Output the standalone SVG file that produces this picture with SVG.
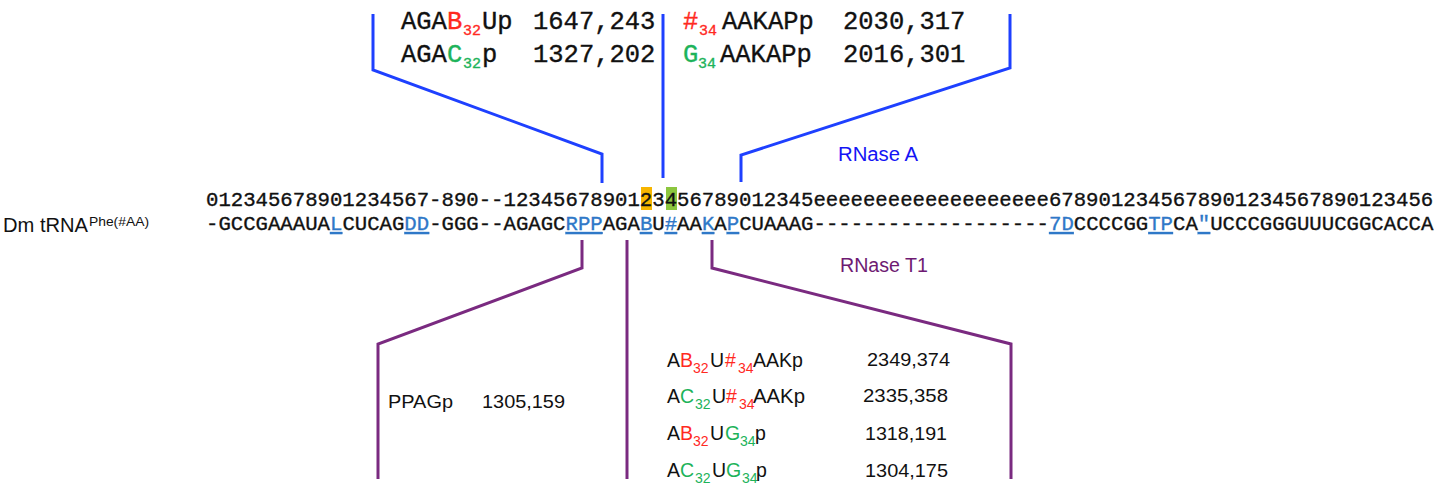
<svg xmlns="http://www.w3.org/2000/svg" width="1437" height="489" viewBox="0 0 1437 489">
<style>
.mono{font-family:"Liberation Mono","DejaVu Sans Mono",monospace;fill:#111;stroke:#111;stroke-width:0.35}
.sans{font-family:"Liberation Sans",Arial,sans-serif;fill:#111}
.red{fill:#ff2a1f}
.green{fill:#1db35a}
.mono.red{stroke:#ff2a1f}
.mono.green{stroke:#1db35a}
.u{fill:#2f78c8;stroke:#2f78c8;text-decoration:underline}
.bl{stroke:#1e40ff;stroke-width:3;fill:none}
.pl{stroke:#7a2a80;stroke-width:3;fill:none}
</style>
<rect width="1437" height="489" fill="#fff"/>
<g id="connectors">
<polyline class="bl" points="373,14 373,70 602,154 602,183"/>
<line class="bl" x1="663" y1="14" x2="663" y2="178"/>
<polyline class="bl" points="1010,14 1010,68 741,155 741,182"/>
<polyline class="pl" points="582,240 582,268 378,344 378,479"/>
<line class="pl" x1="627" y1="240" x2="627" y2="479"/>
<polyline class="pl" points="712,240 712,268 1011,344 1011,479"/>
</g>
<g id="trna-label">
<text class="sans" x="3" y="232" font-size="20" textLength="85" lengthAdjust="spacingAndGlyphs">Dm tRNA</text>
<text class="sans" x="89" y="226" font-size="12.5" textLength="60" lengthAdjust="spacingAndGlyphs">Phe(#AA)</text>
</g>
<g id="sequence">
<rect x="641" y="187" width="11" height="23" fill="#f7b500"/>
<rect x="666" y="187" width="11" height="23" fill="#8cc63f"/>
<text class="mono" x="206" y="206" font-size="20.67">012345678901234567-890--1234567890123456789012345eeeeeeeeeeeeeeeeeee6789012345678901234567890123456</text>
<text class="mono" x="206" y="230" font-size="20.67">-GCCGAAAUA<tspan class="u">L</tspan>CUCAG<tspan class="u">DD</tspan>-GGG--AGAGC<tspan class="u">RPP</tspan>AGA<tspan class="u">B</tspan>U<tspan class="u">#</tspan>AA<tspan class="u">K</tspan>A<tspan class="u">P</tspan>CUAAAG-------------------<tspan class="u">7D</tspan>CCCCGG<tspan class="u">TP</tspan>CA<tspan class="u">"</tspan>UCCCGGGUUUCGGCACCA</text>
</g>
<g id="rnase-a">
<text class="sans" x="838" y="161" font-size="19.5" style="fill:#1414f5" textLength="80" lengthAdjust="spacingAndGlyphs">RNase A</text>
</g>
<g id="rnase-a-left">
<text class="mono" x="401" y="29" font-size="25.5">AGA</text>
<text class="mono red" x="447" y="29" font-size="25.5">B</text>
<text class="mono red" x="463" y="35" font-size="15">32</text>
<text class="mono" x="482" y="29" font-size="25.5">Up</text>
<text class="mono" x="533" y="29" font-size="25.5">1647,243</text>
<text class="mono" x="401" y="62" font-size="25.5">AGA</text>
<text class="mono green" x="447" y="62" font-size="25.5">C</text>
<text class="mono green" x="463" y="68" font-size="15">32</text>
<text class="mono" x="482" y="62" font-size="25.5">p</text>
<text class="mono" x="533" y="62" font-size="25.5">1327,202</text>
</g>
<g id="rnase-a-right">
<text class="mono red" x="683" y="29" font-size="25.5">#</text>
<text class="mono red" x="699" y="35" font-size="15">34</text>
<text class="mono" x="722" y="29" font-size="25.5">AAKAPp</text>
<text class="mono" x="843" y="29" font-size="25.5">2030,317</text>
<text class="mono green" x="683" y="62" font-size="25.5">G</text>
<text class="mono green" x="698" y="68" font-size="15">34</text>
<text class="mono" x="720" y="62" font-size="25.5">AAKAPp</text>
<text class="mono" x="843" y="62" font-size="25.5">2016,301</text>
</g>
<g id="rnase-t1">
<text class="sans" x="840" y="272" font-size="19.5" style="fill:#6e1a72" textLength="88" lengthAdjust="spacingAndGlyphs">RNase T1</text>
</g>
<g id="rnase-t1-left">
<text class="sans" x="388" y="408" font-size="19" textLength="65" lengthAdjust="spacingAndGlyphs">PPAGp</text>
<text class="sans" x="482" y="408" font-size="19" textLength="83" lengthAdjust="spacingAndGlyphs">1305,159</text>
</g>
<g id="rnase-t1-right">
<text class="sans" x="667" y="367" font-size="19.5">A</text>
<text class="sans red" x="680" y="367" font-size="19.5">B</text>
<text class="sans red" x="693" y="373" font-size="14">32</text>
<text class="sans" x="710" y="367" font-size="19.5">U</text>
<text class="sans red" x="725" y="367" font-size="19.5">#</text>
<text class="sans red" x="738" y="373" font-size="14">34</text>
<text class="sans" x="753" y="367" font-size="19.5" textLength="50" lengthAdjust="spacingAndGlyphs">AAKp</text>
<text class="sans" x="867" y="366" font-size="19" textLength="83" lengthAdjust="spacingAndGlyphs">2349,374</text>

<text class="sans" x="667" y="403" font-size="19.5">A</text>
<text class="sans green" x="680" y="403" font-size="19.5">C</text>
<text class="sans green" x="695" y="409" font-size="14">32</text>
<text class="sans" x="712" y="403" font-size="19.5">U</text>
<text class="sans red" x="726" y="403" font-size="19.5">#</text>
<text class="sans red" x="739" y="409" font-size="14">34</text>
<text class="sans" x="753" y="403" font-size="19.5" textLength="52" lengthAdjust="spacingAndGlyphs">AAKp</text>
<text class="sans" x="863" y="402" font-size="19" textLength="85" lengthAdjust="spacingAndGlyphs">2335,358</text>

<text class="sans" x="667" y="440" font-size="19.5">A</text>
<text class="sans red" x="680" y="440" font-size="19.5">B</text>
<text class="sans red" x="693" y="446" font-size="14">32</text>
<text class="sans" x="710" y="440" font-size="19.5">U</text>
<text class="sans green" x="725" y="440" font-size="19.5">G</text>
<text class="sans green" x="740" y="446" font-size="14">34</text>
<text class="sans" x="755" y="440" font-size="19.5">p</text>
<text class="sans" x="865" y="440" font-size="19" textLength="82" lengthAdjust="spacingAndGlyphs">1318,191</text>

<text class="sans" x="667" y="477" font-size="19.5">A</text>
<text class="sans green" x="680" y="477" font-size="19.5">C</text>
<text class="sans green" x="695" y="483" font-size="14">32</text>
<text class="sans" x="712" y="477" font-size="19.5">U</text>
<text class="sans green" x="726" y="477" font-size="19.5">G</text>
<text class="sans green" x="742" y="483" font-size="14">34</text>
<text class="sans" x="756" y="477" font-size="19.5">p</text>
<text class="sans" x="865" y="477" font-size="19" textLength="83" lengthAdjust="spacingAndGlyphs">1304,175</text>
</g>
</svg>
